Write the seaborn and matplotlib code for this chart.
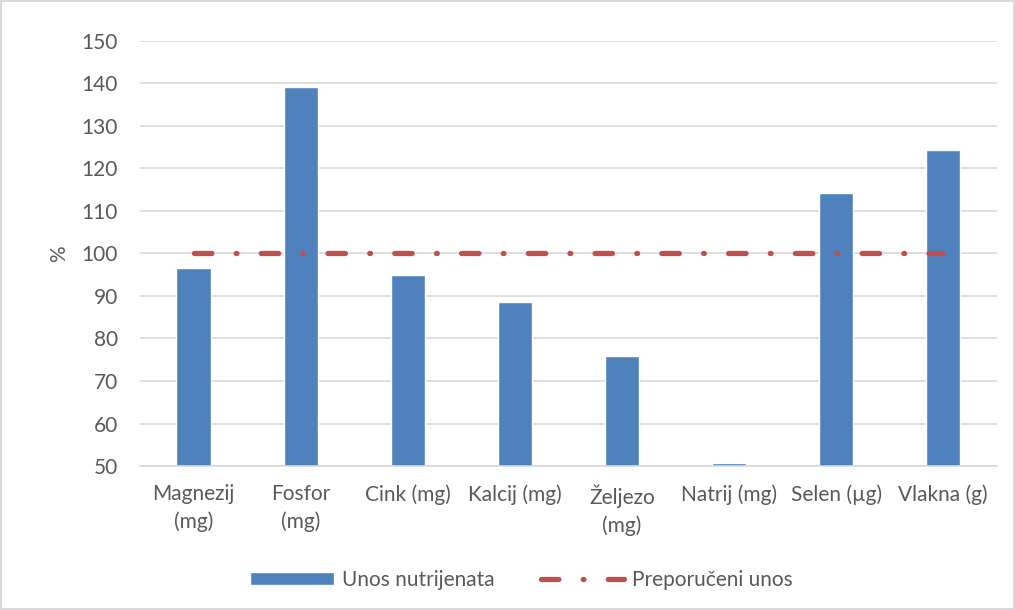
import seaborn as sns
import matplotlib.pyplot as plt
import pandas as pd

# Podaci
kategorije = ['Magnezij\n(mg)', 'Fosfor\n(mg)', 'Cink (mg)', 'Kalcij (mg)',
              'Željezo\n(mg)', 'Natrij (mg)', 'Selen (µg)', 'Vlakna (g)']
unos = [96.6, 139.2, 94.9, 88.6, 75.9, 50.8, 114.2, 124.4]
preporuceno = [100, 100, 100, 100, 100, 100, 100, 100]
y_ticks = [50, 60, 70, 80, 90, 100, 110, 120, 130, 140, 150]

sns.set_style('white')
plt.rcParams['font.family'] = ['Lato', 'DejaVu Sans']

tekst = '#595959'
mreza = '#D9D9D9'

fig = plt.figure(figsize=(10.15, 6.1), dpi=100)
fig.patch.set_edgecolor(mreza)
fig.patch.set_linewidth(1.5)
ax = fig.add_axes([0.138, 0.236, 0.844, 0.697])

df = pd.DataFrame({'kat': kategorije, 'unos': unos})
sns.barplot(data=df, x='kat', y='unos', color='#4F81BD', saturation=1,
            width=0.32, ax=ax, label='Unos nutrijenata', zorder=2)

# Preporučeni unos - crta točka crta
x_pos = list(range(len(kategorije)))
ax.plot(x_pos, preporuceno, color='#C0504D', linewidth=3.8,
        linestyle=(0, (3.3, 4.6, 0.15, 4.6)), dash_capstyle='round',
        solid_capstyle='round', label='Preporučeni unos', zorder=3)

ax.set_ylim(50, 150)
ax.set_xlim(-0.5, len(kategorije) - 0.5)
ax.set_yticks(y_ticks)
ax.yaxis.grid(True, color=mreza, linewidth=1.2, zorder=0)
ax.set_axisbelow(True)
for s in ['top', 'right', 'left']:
    ax.spines[s].set_visible(False)
ax.spines['bottom'].set_color(mreza)
ax.spines['bottom'].set_linewidth(1.2)
ax.tick_params(axis='both', length=0, labelsize=15, colors=tekst)
ax.tick_params(axis='y', pad=16)
ax.tick_params(axis='x', pad=13)
for t in ax.get_xticklabels():
    t.set_linespacing(1.45)
ax.set_xlabel('')
ax.set_ylabel('%', fontsize=15, color=tekst, labelpad=9)

handles, labels = ax.get_legend_handles_labels()
if ax.get_legend() is not None:
    ax.get_legend().remove()
redoslijed = [labels.index('Unos nutrijenata'), labels.index('Preporučeni unos')]
fig.legend([handles[i] for i in redoslijed], [labels[i] for i in redoslijed],
           loc='center', bbox_to_anchor=(0.514, 0.05), ncol=2, frameon=False,
           fontsize=15, labelcolor=tekst, handlelength=4.0, columnspacing=2.2,
           handletextpad=0.4, handleheight=0.6)

fig.savefig('out.png', dpi=100)
